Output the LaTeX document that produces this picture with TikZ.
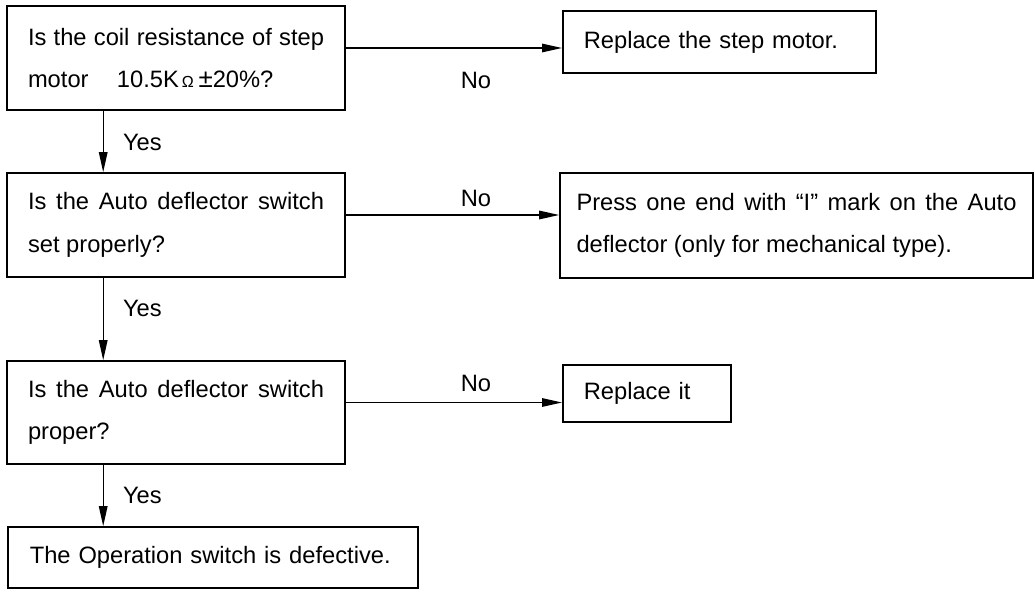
\documentclass[tikz,border=0pt]{standalone}
\usepackage{fontspec}
\setmainfont{Liberation Sans}
\usetikzlibrary{arrows.meta}

\begin{document}
\begin{tikzpicture}[x=1pt,y=1pt,
  box/.style={draw=drawColor,line width=1.6pt,text=drawColor,inner ysep=0pt,
    font=\fontsize{23.7}{42.5}\selectfont},
  qbox/.style={box,inner xsep=21pt,text width=296pt,align=justify},
  abox/.style={box,inner xsep=21pt,align=left,anchor=west},
  lbl/.style={text=drawColor,inner sep=0pt,outer sep=0pt,font=\fontsize{23.7}{28}\selectfont},
  arr/.style={draw=drawColor,line width=1.4pt,-{Triangle[length=20pt,width=8.5pt]}}]
\definecolor{drawColor}{RGB}{0,0,0}
\path[use as bounding box,fill=white] (0,0) rectangle (1035,590);

\node[qbox,minimum height=104pt] (coil) at (176,532) {Is the coil resistance of step\linebreak
  motor\hspace{1.2em}10.5K\hspace{0.12em}{\fontsize{16}{16}\selectfont Ω}\hspace{0.2em}{\fontsize{26}{26}\selectfont ±}20\%?};

\node[abox,minimum height=62pt,text width=271pt] (motor) at (562,548) {Replace the step motor.};

\node[qbox,minimum height=104pt] (auto) at (176,365) {Is the Auto deflector switch\linebreak set properly?};

\node[box,inner xsep=16.5pt,text width=440pt,align=justify,minimum height=105pt] (press) at (796.5,364.5)
  {Press one end with “I” mark on the Auto\linebreak deflector (only for mechanical type).};

\node[qbox,minimum height=103pt] (proper) at (176,177.5) {Is the Auto deflector switch\linebreak proper?};

\node[abox,minimum height=57pt,text width=126pt] (replace) at (562,196.5) {Replace it};

\node[abox,minimum height=61pt,inner xsep=22pt,text width=366pt] (defect) at (7,32.5) {The Operation switch is defective.};

\draw[arr] ([yshift=10pt]coil.east) -- ([yshift=10pt]coil.east -| motor.west);

\draw[arr] ([yshift=10pt]auto.east) -- ([yshift=10pt]auto.east -| press.west);

\draw[arr] ([yshift=10pt]proper.east) -- ([yshift=10pt]proper.east -| replace.west);

\draw[arr] ([xshift=97pt]coil.south west) -- ([xshift=97pt]coil.south west |- auto.north);

\draw[arr] ([xshift=97pt]auto.south west) -- ([xshift=97pt]auto.south west |- proper.north);

\draw[arr] ([xshift=97pt]proper.south west) -- ([xshift=97pt]proper.south west |- defect.north);

\node[lbl] (no1) at (476,510) {No};

\node[lbl] (no2) at (476,392) {No};

\node[lbl] (no3) at (476,207) {No};

\node[lbl,anchor=west] (yes1) at (123,448) {Yes};

\node[lbl,anchor=west] (yes2) at (123,282) {Yes};

\node[lbl,anchor=west] (yes3) at (123,95) {Yes};
\end{tikzpicture}
\end{document}
